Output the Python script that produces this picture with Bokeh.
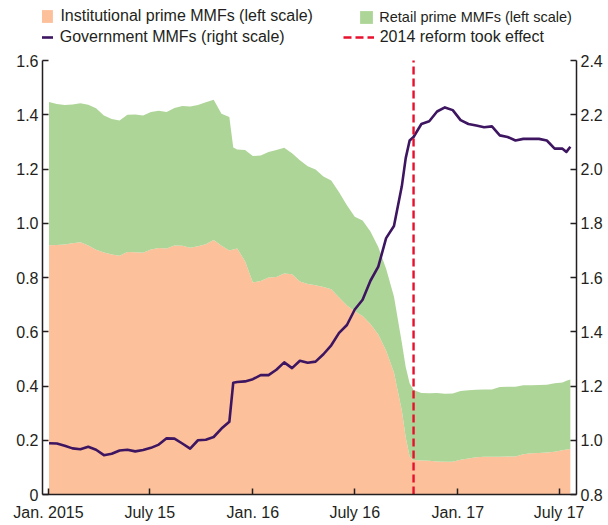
import pandas as pd
from bokeh.plotting import figure
from bokeh.models import (Range1d, LinearAxis, FixedTicker, Legend, LegendItem,
                          ColumnDataSource)
from bokeh.embed import file_html
from bokeh.resources import INLINE

# ---------------- data ----------------
dates = ["2015-01-02", "2015-01-16", "2015-01-30", "2015-02-13", "2015-02-27", "2015-03-13",
         "2015-03-27", "2015-04-10", "2015-04-24", "2015-05-08", "2015-05-22", "2015-06-05",
         "2015-06-19", "2015-07-03", "2015-07-17", "2015-07-31", "2015-08-14", "2015-08-28",
         "2015-09-11", "2015-09-25", "2015-10-09", "2015-10-23", "2015-11-06", "2015-11-20",
         "2015-11-27", "2015-12-04", "2015-12-18", "2016-01-01", "2016-01-15", "2016-01-29",
         "2016-02-12", "2016-02-26", "2016-03-11", "2016-03-25", "2016-04-08", "2016-04-22",
         "2016-05-06", "2016-05-20", "2016-06-03", "2016-06-17", "2016-07-01", "2016-07-15",
         "2016-07-29", "2016-08-12", "2016-08-26", "2016-09-09", "2016-09-23", "2016-09-30",
         "2016-10-07", "2016-10-14", "2016-10-28", "2016-11-11", "2016-11-25", "2016-12-09",
         "2016-12-23", "2017-01-06", "2017-01-20", "2017-02-03", "2017-02-17", "2017-03-03",
         "2017-03-17", "2017-03-31", "2017-04-14", "2017-04-28", "2017-05-12", "2017-05-26",
         "2017-06-09", "2017-06-23", "2017-07-07", "2017-07-14", "2017-07-21"]

# Institutional prime MMFs (left scale, trillions)
institutional = [0.919, 0.920, 0.922, 0.926, 0.930, 0.918, 0.902, 0.892, 0.885, 0.880,
                 0.894, 0.893, 0.891, 0.903, 0.909, 0.907, 0.918, 0.917, 0.910, 0.915,
                 0.923, 0.938, 0.917, 0.900, 0.903, 0.907, 0.860, 0.782, 0.787, 0.800,
                 0.802, 0.815, 0.812, 0.785, 0.776, 0.771, 0.765, 0.757, 0.726, 0.697,
                 0.676, 0.658, 0.629, 0.590, 0.530, 0.450, 0.310, 0.210, 0.140, 0.127,
                 0.125, 0.124, 0.122, 0.121, 0.121, 0.128, 0.133, 0.137, 0.139, 0.139,
                 0.139, 0.140, 0.140, 0.148, 0.152, 0.153, 0.155, 0.158, 0.163, 0.166,
                 0.168]

# Retail prime MMFs (left scale, trillions)
retail = [0.528, 0.520, 0.514, 0.512, 0.512, 0.519, 0.522, 0.505, 0.499, 0.499,
          0.506, 0.508, 0.506, 0.507, 0.506, 0.503, 0.507, 0.515, 0.520, 0.521,
          0.523, 0.517, 0.487, 0.492, 0.376, 0.365, 0.410, 0.466, 0.463, 0.463,
          0.468, 0.463, 0.446, 0.447, 0.434, 0.427, 0.407, 0.401, 0.388, 0.369,
          0.348, 0.352, 0.341, 0.322, 0.302, 0.280, 0.250, 0.260, 0.270, 0.258,
          0.249, 0.249, 0.252, 0.250, 0.251, 0.254, 0.251, 0.249, 0.248, 0.248,
          0.257, 0.257, 0.257, 0.255, 0.251, 0.251, 0.250, 0.252, 0.250, 0.253,
          0.256]

# Government MMFs (right scale, trillions)
government = [0.989, 0.988, 0.980, 0.970, 0.967, 0.976, 0.965, 0.945, 0.950, 0.962,
              0.965, 0.959, 0.964, 0.972, 0.984, 1.007, 1.006, 0.988, 0.969, 1.000,
              1.002, 1.012, 1.043, 1.068, 1.212, 1.215, 1.217, 1.225, 1.240, 1.240,
              1.260, 1.287, 1.266, 1.293, 1.286, 1.290, 1.317, 1.350, 1.396, 1.425,
              1.482, 1.518, 1.588, 1.640, 1.745, 1.790, 1.936, 2.040, 2.105, 2.118,
              2.166, 2.176, 2.212, 2.227, 2.217, 2.180, 2.166, 2.160, 2.154, 2.157,
              2.124, 2.118, 2.105, 2.111, 2.111, 2.111, 2.105, 2.075, 2.075, 2.063,
              2.082]

reform_date = "2016-10-14"

x_tick_dates = ["2015-01-01", "2015-07-01", "2016-01-01", "2016-07-01", "2017-01-01", "2017-07-01"]
x_tick_labels = ["Jan. 2015", "July 15", "Jan. 16", "July 16", "Jan. 17", "July 17"]
left_ticks = [0, 0.2, 0.4, 0.6, 0.8, 1.0, 1.2, 1.4, 1.6]
left_tick_labels = ["0", "0.2", "0.4", "0.6", "0.8", "1.0", "1.2", "1.4", "1.6"]
right_ticks = [0.8, 1.0, 1.2, 1.4, 1.6, 1.8, 2.0, 2.2, 2.4]
right_tick_labels = ["0.8", "1.0", "1.2", "1.4", "1.6", "1.8", "2.0", "2.2", "2.4"]

series_labels = ["Institutional prime MMFs (left scale)", "Retail prime MMFs (left scale)",
                 "Government MMFs (right scale)", "2014 reform took effect"]

# ---------------- styling ----------------
FONT = "Liberation Sans"
FS = "16px"
TXT = "#231f20"
ORANGE = "#fcc09b"
GREEN = "#aed598"
PURPLE = "#3d1560"
RED = "#e8112d"

FRAME_W, FRAME_H = 534, 494
TOP_PAD = 60  # px between frame top and the 1.6 level (legend space)
left_max, right_min, right_max = 1.6, 0.8, 2.4
y_top = left_max * FRAME_H / (FRAME_H - TOP_PAD)

src = ColumnDataSource(dict(date=pd.to_datetime(dates),
                            institutional=institutional,
                            retail=retail,
                            government=government))

p = figure(frame_width=FRAME_W, frame_height=FRAME_H, x_axis_type="datetime",
           output_backend="svg", toolbar_location=None,
           min_border_top=0, min_border_left=42, min_border_right=26, min_border_bottom=26,
           x_range=Range1d(pd.Timestamp("2014-12-21 08:00"), pd.Timestamp("2017-08-01")),
           y_range=Range1d(0, y_top))
p.extra_y_ranges = {"right": Range1d(right_min, right_min + y_top)}
p.outline_line_color = None
p.xgrid.visible = False
p.ygrid.visible = False
p.background_fill_color = "white"

areas = p.varea_stack(["institutional", "retail"], x="date", source=src,
                      color=[ORANGE, GREEN])
gov = p.line("date", "government", source=src, y_range_name="right",
             line_width=2.6, line_color=PURPLE, line_join="round")
reform = p.segment(x0=[pd.Timestamp(reform_date)], y0=[0], x1=[pd.Timestamp(reform_date)],
                   y1=[left_max], line_color=RED, line_width=2.4, line_dash="8 4")

right_axis = LinearAxis(y_range_name="right", bounds=(right_min, right_max))
p.add_layout(right_axis, "right")

xt = [pd.Timestamp(d).value // 10**6 for d in x_tick_dates]
p.xaxis.ticker = FixedTicker(ticks=xt)
p.xaxis.major_label_overrides = {t: lab for t, lab in zip(xt, x_tick_labels)}

p.yaxis[0].ticker = FixedTicker(ticks=left_ticks)
p.yaxis[0].bounds = (0, left_max)
p.yaxis[0].major_label_overrides = {t: lab for t, lab in zip(left_ticks, left_tick_labels)}
right_axis.ticker = FixedTicker(ticks=right_ticks)
right_axis.major_label_overrides = {t: lab for t, lab in zip(right_ticks, right_tick_labels)}

for ax in [p.xaxis[0], p.yaxis[0], right_axis]:
    ax.axis_line_color = TXT
    ax.axis_line_width = 1.5
    ax.major_tick_line_color = TXT
    ax.major_tick_line_width = 1.5
    ax.major_tick_in = 6
    ax.major_tick_out = 0
    ax.minor_tick_in = 0
    ax.minor_tick_out = 0
    ax.major_label_text_font = FONT
    ax.major_label_text_font_size = FS
    ax.major_label_text_color = TXT
    ax.major_label_standoff = 4
p.xaxis[0].major_label_standoff = 9


def make_legend(label, renderer, x, y, gw, gh, standoff, fs=FS):
    lg = Legend(items=[LegendItem(label=label, renderers=[renderer])],
                location=(x, y), glyph_width=gw, glyph_height=gh,
                label_standoff=standoff, padding=0, margin=0, spacing=0,
                border_line_color=None, background_fill_alpha=0,
                label_text_font=FONT, label_text_font_size=fs,
                label_text_color=TXT, label_height=16)
    p.add_layout(lg)


ROW_H = 18
row1 = FRAME_H - (15.7 + ROW_H / 2)
row2 = FRAME_H - (36.7 + ROW_H / 2)
make_legend(series_labels[0], areas[0], -3.6, row1, 16, 16, 6)
make_legend(series_labels[2], gov, -19.3, row2, 30, 16, 7)
make_legend(series_labels[1], areas[1], 316.3, row1, 16, 16, 5, fs="14.5px")
make_legend(series_labels[3], reform, 300.7, row2, 31, 16, 6)

open("out.html", "w").write(file_html(p, INLINE))
